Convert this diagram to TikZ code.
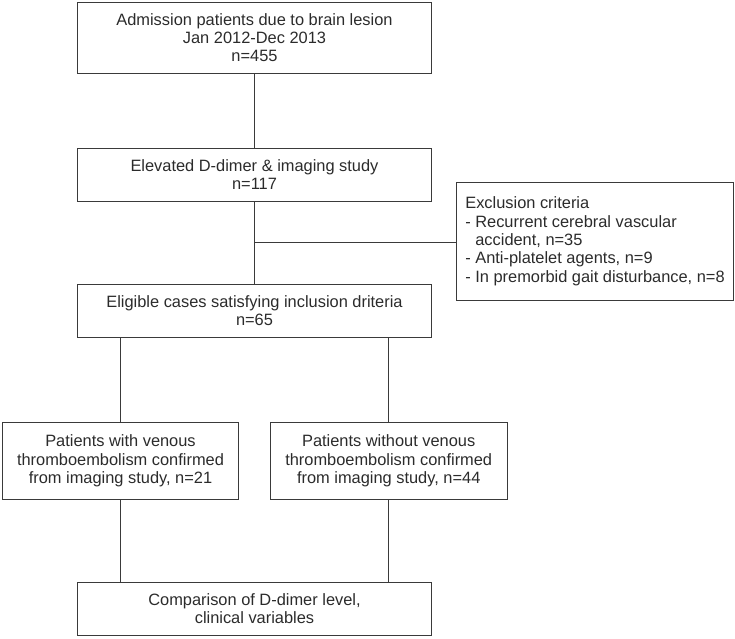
\documentclass[tikz,border=0pt]{standalone}
\usepackage{fontspec}
\setmainfont{Liberation Sans}
\definecolor{ink}{HTML}{2B2B2B}
\definecolor{linec}{HTML}{3A3A3A}
\begin{document}
\begin{tikzpicture}[x=1pt,y=-1pt,
  boxst/.style={draw=linec, line width=0.9pt, rectangle, inner sep=0pt, text=ink,
    font=\fontsize{16.4}{18.3}\selectfont, align=center},
  conn/.style={draw=linec, line width=0.9pt}]
\useasboundingbox (0,0) rectangle (735,638);
\node[boxst, minimum width=354.5, minimum height=71] (b1) at (254.5,37.5)
  {Admission patients due to brain lesion\\Jan 2012-Dec 2013\\n=455};
\node[boxst, minimum width=354.5, minimum height=53] (b2) at (254.5,174.5)
  {Elevated D-dimer \& imaging study\\n=117};
\node[boxst, minimum width=354.5, minimum height=53] (b3) at (254.5,310.5)
  {Eligible cases satisfying inclusion driteria\\n=65};
\node[boxst, minimum width=277, minimum height=117.5, align=left] (ex) at (595,241.3)
  {Exclusion criteria\\- Recurrent cerebral vascular\\\hphantom{-} accident, n=35\\- Anti-platelet agents, n=9\\- In premorbid gait disturbance, n=8};
\node[boxst, minimum width=236.4, minimum height=76.6] (b4) at (120.5,461)
  {Patients with venous\\thromboembolism confirmed\\from imaging study, n=21};
\node[boxst, minimum width=236.7, minimum height=76.6] (b5) at (388.7,461)
  {Patients without venous\\thromboembolism confirmed\\from imaging study, n=44};
\node[boxst, minimum width=354.5, minimum height=53] (b6) at (254.5,608.8)
  {Comparison of D-dimer level,\\clinical variables};
\coordinate (br) at (254.5,242.7);
\draw[conn] (b1.south) -- (b2.north);
\draw[conn] (b2.south) -- (b3.north);
\draw[conn] (br) -- (br -| ex.west);
\draw[conn] (b4.north |- b3.south) -- (b4.north);
\draw[conn] (b5.north |- b3.south) -- (b5.north);
\draw[conn] (b4.south) -- (b4.south |- b6.north);
\draw[conn] (b5.south) -- (b5.south |- b6.north);
\end{tikzpicture}
\end{document}
